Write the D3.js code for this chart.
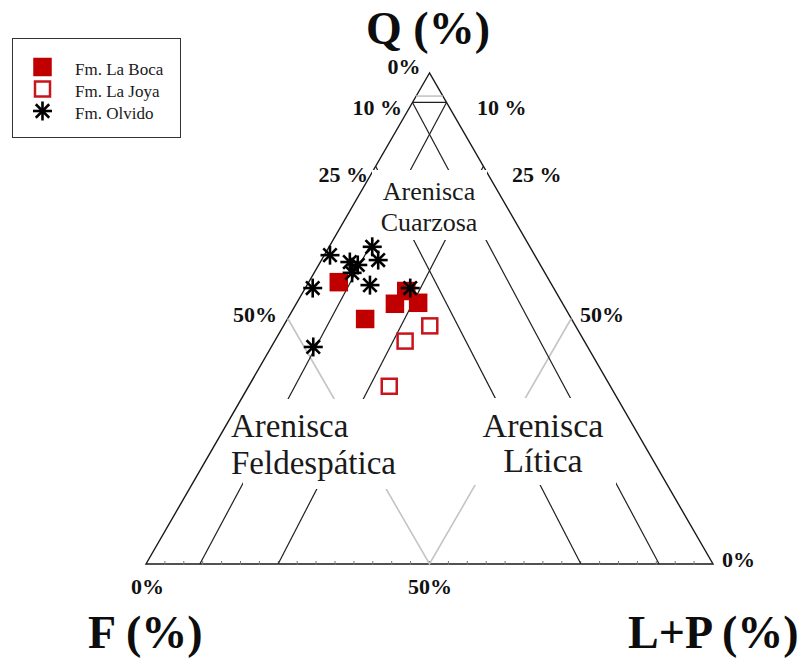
<!DOCTYPE html>
<html>
<head>
<meta charset="utf-8">
<script src="https://cdn.jsdelivr.net/npm/d3@7/dist/d3.min.js"></script>
<style>
  html, body { margin: 0; padding: 0; background: #fff; }
  svg { display: block; }
  text { font-family: "Liberation Serif", "Times New Roman", serif; }
</style>
</head>
<body>
<svg id="chart" width="801" height="660"></svg>
<script>
// ---- Data: sandstone compositions as [Q, F, L+P] percentages ----
const seriesNames = ["Fm. La Boca", "Fm. La Joya", "Fm. Olvido"];

const laBoca = [
  [57.4, 37.3, 5.3],
  [49.9, 36.4, 13.7],
  [53.0, 29.6, 17.4],
  [55.6, 26.3, 18.1],
  [53.2, 25.4, 21.4]
];

const laJoya = [
  [48.5, 25.7, 25.8],
  [45.4, 31.6, 23.0],
  [36.2, 39.0, 24.8]
];

const olvido = [
  [62.9, 36.1, 1.0],
  [61.5, 33.3, 5.2],
  [60.9, 32.2, 6.9],
  [59.3, 34.0, 6.7],
  [64.6, 27.8, 7.6],
  [61.9, 28.1, 10.0],
  [56.8, 32.1, 11.1],
  [56.2, 42.5, 1.3],
  [56.2, 25.3, 18.5],
  [44.2, 48.4, 7.4]
];

// Classification field boundaries, in [Q, F, L+P]
const boundaryLines = [
  [[94, 6, 0], [94, 0, 6]],
  [[0, 90.5, 9.5], [94, 0, 6]],
  [[0, 9.5, 90.5], [94, 6, 0]],
  [[0, 76.7, 23.3], [81, 0, 19]],
  [[0, 23.3, 76.7], [81, 19, 0]]
];
const faintLines = [
  [[95.3, 4.7, 0], [95.3, 0, 4.7]],
  [[50, 50, 0], [0, 50, 50], [50, 0, 50]]
];

const fieldNames = [
  ["Arenisca", "Cuarzosa"],
  ["Arenisca", "Feldespática"],
  ["Arenisca", "Lítica"]
];

const axisTitles = ["Q (%)", "F (%)", "L+P (%)"];
const tickLabels = ["0%", "10 %", "10 %", "25 %", "25 %", "50%", "50%", "0%", "50%", "0%"];

// ---- Ternary projection built from two linear scales ----
const xs = d3.scaleLinear().domain([0, 100]).range([146, 713]);
const ys = d3.scaleLinear().domain([0, 100]).range([564, 73]);
function proj(p) {
  const s = p[0] + p[1] + p[2];
  const q = p[0] * 100 / s, l = p[2] * 100 / s;
  return [xs(l + q / 2), ys(q)];
}

const svg = d3.select("#chart");
const line = d3.line();

// Triangle outline
const corners = [[100, 0, 0], [0, 100, 0], [0, 0, 100]];
svg.append("path")
  .attr("d", line(corners.map(proj)) + "Z")
  .attr("fill", "none").attr("stroke", "#1a1a1a").attr("stroke-width", 1.4)
  .attr("stroke-linejoin", "miter");

// Small ticks along the base
const tickSteps = d3.range(1, 30).map(k => k * 100 / 30);
const tickG = svg.append("g").attr("stroke", "#777").attr("stroke-width", 1);
tickSteps.forEach(t => {
  const b = proj([0, 100 - t, t]);
  tickG.append("line").attr("x1", b[0]).attr("x2", b[0]).attr("y1", b[1] - 3).attr("y2", b[1] + 1);
});

// Boundary lines
svg.append("g").selectAll("path").data(faintLines).join("path")
  .attr("d", d => line(d.map(proj)))
  .attr("fill", "none").attr("stroke", "#c4c4c4").attr("stroke-width", 1.6);
svg.append("g").selectAll("path").data(boundaryLines).join("path")
  .attr("d", d => line(d.map(proj)))
  .attr("fill", "none").attr("stroke", "#1f1f1f").attr("stroke-width", 1.2);

// Field labels on white panels
const panels = [
  { x: 372, y: 170, w: 115, h: 70 },
  { x: 243, y: 399, w: 159, h: 90 },
  { x: 468, y: 398, w: 148, h: 87 }
];
svg.append("g").selectAll("rect").data(panels).join("rect")
  .attr("x", d => d.x).attr("y", d => d.y).attr("width", d => d.w).attr("height", d => d.h)
  .attr("fill", "#fff");

const fieldText = [
  { lines: fieldNames[0], x: 429, y: [200, 231], size: 26, anchor: "middle" },
  { lines: fieldNames[1], x: 231, y: [437, 474], size: 33, anchor: "start" },
  { lines: fieldNames[2], x: 543, y: [437, 472], size: 34, anchor: "middle" }
];
fieldText.forEach(f => {
  f.lines.forEach((t, i) => {
    svg.append("text").attr("x", f.x).attr("y", f.y[i])
      .attr("text-anchor", f.anchor).attr("font-size", f.size).attr("fill", "#1a1a1a")
      .text(t);
  });
});

// Percentage labels
const tickPos = [
  { x: 404, y: 74, a: "middle" },
  { x: 402, y: 115, a: "end" },
  { x: 477, y: 115, a: "start" },
  { x: 368, y: 182, a: "end" },
  { x: 512, y: 182, a: "start" },
  { x: 277, y: 322, a: "end" },
  { x: 580, y: 322, a: "start" },
  { x: 131, y: 594, a: "start" },
  { x: 430, y: 594, a: "middle" },
  { x: 722, y: 567, a: "start" }
];
svg.append("g").selectAll("text").data(tickLabels).join("text")
  .attr("x", (d, i) => tickPos[i].x).attr("y", (d, i) => tickPos[i].y)
  .attr("text-anchor", (d, i) => tickPos[i].a)
  .attr("font-size", 22).attr("font-weight", "bold").attr("fill", "#111")
  .text(d => d);

// Axis titles
const titlePos = [
  { x: 428, y: 44, a: "middle" },
  { x: 88, y: 648, a: "start" },
  { x: 628, y: 648, a: "start" }
];
svg.append("g").selectAll("text").data(axisTitles).join("text")
  .attr("x", (d, i) => titlePos[i].x).attr("y", (d, i) => titlePos[i].y)
  .attr("text-anchor", (d, i) => titlePos[i].a)
  .attr("font-size", 46).attr("font-weight", "bold").attr("fill", "#0d0d0d")
  .text(d => d);

// ---- Marker drawing ----
const red = "#c00000";
function filledSquare(g, x, y, s) {
  g.append("rect").attr("x", x - s / 2).attr("y", y - s / 2).attr("width", s).attr("height", s)
    .attr("fill", red);
}
function openSquare(g, x, y, s) {
  g.append("rect").attr("x", x - s / 2 + 1.25).attr("y", y - s / 2 + 1.25)
    .attr("width", s - 2.5).attr("height", s - 2.5)
    .attr("fill", "#fff").attr("stroke", "#c8141b").attr("stroke-width", 2.5);
}
function asterisk(g, x, y, r) {
  const a = g.append("g").attr("stroke", "#000").attr("stroke-width", 2.6).attr("stroke-linecap", "butt");
  [0, 45, 90, 135].forEach(deg => {
    const rad = deg * Math.PI / 180;
    const dx = Math.cos(rad) * r, dy = Math.sin(rad) * r;
    a.append("line").attr("x1", x - dx).attr("y1", y - dy).attr("x2", x + dx).attr("y2", y + dy);
  });
}

const pts = svg.append("g");
laBoca.forEach(p => { const [x, y] = proj(p); filledSquare(pts, x, y, 18.5); });
laJoya.forEach(p => { const [x, y] = proj(p); openSquare(pts, x, y, 17.5); });
olvido.forEach(p => { const [x, y] = proj(p); asterisk(pts, x, y, 9.5); });

// ---- Legend ----
const lg = svg.append("g");
lg.append("rect").attr("x", 12.5).attr("y", 38.5).attr("width", 168).attr("height", 99)
  .attr("fill", "#fff").attr("stroke", "#333").attr("stroke-width", 1);
const legendY = [67, 89, 111];
filledSquare(lg, 42.5, legendY[0], 18.5);
openSquare(lg, 42.5, legendY[1], 17.5);
asterisk(lg, 42.5, legendY[2], 9.5);
lg.selectAll("text").data(seriesNames).join("text")
  .attr("x", 75).attr("y", (d, i) => legendY[i] + 8)
  .attr("font-size", 17).attr("fill", "#1a1a1a")
  .text(d => d);
</script>
</body>
</html>
